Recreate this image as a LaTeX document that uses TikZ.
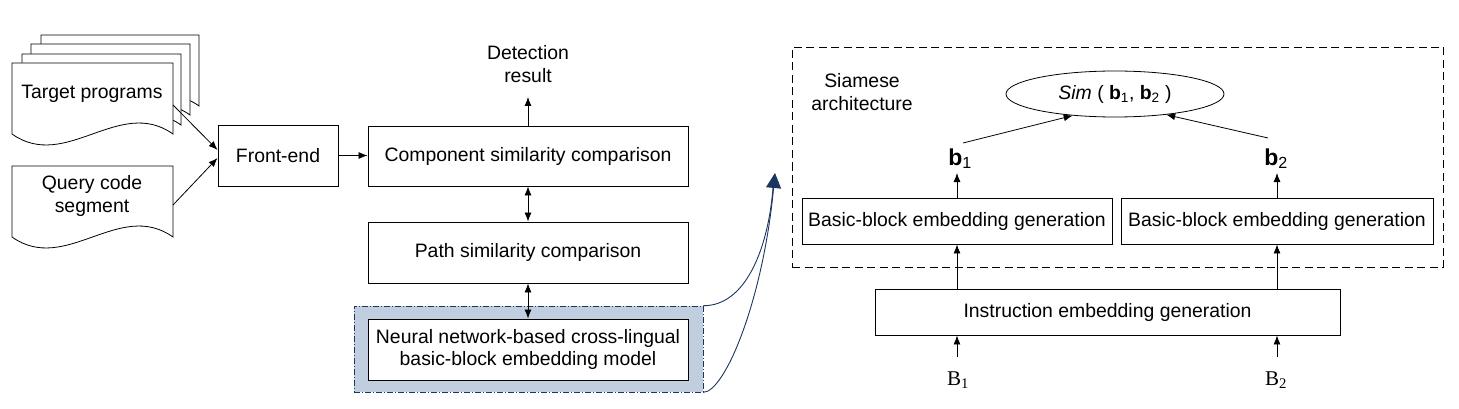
\documentclass[tikz,border=0pt]{standalone}
\usepackage{fontspec}
\setmainfont{Liberation Sans}
\newfontfamily\timesfont{Liberation Serif}
\usetikzlibrary{arrows.meta,shapes.geometric,calc}
\definecolor{shadefill}{RGB}{193,206,224}
\definecolor{navy}{RGB}{27,54,94}
\newcommand\docpage[4]{\draw[docline] (#1,#2) -- (#3,#2) -- (#3,#4) .. controls ({#3-(#3-#1)/3},{#4-38}) and ({#1+(#3-#1)/3},{#4+38}) .. (#1,#4) -- cycle;}
\begin{document}
\begin{tikzpicture}[x=1pt,y=-1pt,
  font=\fontsize{19.4}{22.5}\selectfont,
  box/.style={draw,line width=0.9pt,inner sep=0pt,align=center},
  docline/.style={draw,fill=white,line width=0.8pt},
  tip/.style={-{Latex[length=9pt,width=7pt]},line width=0.8pt},
  dtip/.style={{Latex[length=9pt,width=7pt]}-{Latex[length=9pt,width=7pt]},line width=0.8pt},
  lbl/.style={inner sep=1pt,align=center}]
\useasboundingbox (0,0) rectangle (1459,409);

% stacked documents
\docpage{41}{35}{199}{106}
\docpage{31}{44}{190}{115}
\docpage{22}{54}{181}{125}
\docpage{12}{63}{173}{134}
\docpage{12}{166}{173}{237}
\node[lbl] (tp) at (92,94) {Target programs};
\node[lbl] (qc) at (92,196) {Query code\\segment};
\coordinate (tpout) at (173,105);
\coordinate (qcout) at (173,205);

% left pipeline
\node[box,minimum width=120,minimum height=61] (fe) at (278,155.5) {Front-end};
\node[box,minimum width=320,minimum height=60] (comp) at (528,156) {Component similarity comparison};
\node[box,minimum width=320,minimum height=61] (path) at (528,252.5) {Path similarity comparison};
\node[draw=navy,fill=shadefill,line width=0.6pt,dash pattern=on 6pt off 2pt on 1pt off 2pt,
      minimum width=349,minimum height=86,inner sep=0pt] (shade) at (528.5,349) {};
\node[box,fill=white,minimum width=320,minimum height=61] (nn) at (528,349.5)
  {Neural network-based cross-lingual\\basic-block embedding model};
\node[lbl] (det) at (528,64) {Detection\\result};
\coordinate (detin) at (528,97);

\draw[tip] (tpout) -- ($(fe.west)+(0,-5.5)$);
\draw[tip] (qcout) -- ($(fe.west)+(0,2.5)$);
\draw[tip] (fe.east) -- (fe.east -| comp.west);
\draw[tip] (comp.north) -- (detin);
\draw[dtip] (comp.south) -- (path.north);
\draw[dtip] (path.south) -- (nn.north);

% big curved arrow
\coordinate (bigtip) at (775,173);
\coordinate (bigmid) at (773,188);
\draw[navy,line width=0.9pt] (shade.north east) .. controls (745,306) and (768,250) .. (bigmid);
\draw[navy,line width=0.9pt,-{Triangle[length=15pt,width=15pt]}] (shade.south east) .. controls (725,392) and (763,300) .. (bigtip);

% Siamese architecture
\node[draw,line width=0.8pt,dash pattern=on 8pt off 4.5pt,minimum width=651,minimum height=220,inner sep=0pt] (siam) at (1117.5,157) {};
\node[lbl] (siamlbl) at (862,92) {Siamese\\architecture};
\node[draw,ellipse,line width=0.8pt,minimum width=218,minimum height=46,inner sep=0pt] (sim) at (1115,94)
  {\textit{Sim} ( \textbf{b}\textsubscript{1}, \textbf{b}\textsubscript{2} )};
\node[inner sep=0pt,anchor=base,font=\fontsize{23}{26}\selectfont] (b1) at (960,165) {\textbf{b}\textsubscript{1}};
\node[inner sep=0pt,anchor=base,font=\fontsize{23}{26}\selectfont] (b2) at (1276,165) {\textbf{b}\textsubscript{2}};
\coordinate (b1out) at (963,143);
\coordinate (b2out) at (1268,138);
\coordinate (b1in) at (957,173);
\coordinate (b2in) at (1277,173);
\node[box,minimum width=310,minimum height=46] (bb1) at (957,221) {Basic-block embedding generation};
\node[box,minimum width=312,minimum height=46] (bb2) at (1277,221) {Basic-block embedding generation};
\node[box,minimum width=465,minimum height=46] (inst) at (1107.5,312) {Instruction embedding generation};
\node[inner sep=0pt,anchor=base,font=\timesfont\fontsize{21}{24}\selectfont] (B1) at (958,385) {B\textsubscript{1}};
\node[inner sep=0pt,anchor=base,font=\timesfont\fontsize{21}{24}\selectfont] (B2) at (1276,385) {B\textsubscript{2}};
\coordinate (B1out) at (957,357);
\coordinate (B2out) at (1277,357);

\draw[tip] (b1out) -- (sim.207);
\draw[tip] (b2out) -- (sim.338);
\draw[tip] (bb1.north -| b1in) -- (b1in);
\draw[tip] (bb2.north -| b2in) -- (b2in);
\draw[tip] (inst.north -| bb1) -- (bb1.south);
\draw[tip] (inst.north -| bb2) -- (bb2.south);
\draw[tip] (B1out) -- (inst.south -| B1out);
\draw[tip] (B2out) -- (inst.south -| B2out);
\end{tikzpicture}
\end{document}
